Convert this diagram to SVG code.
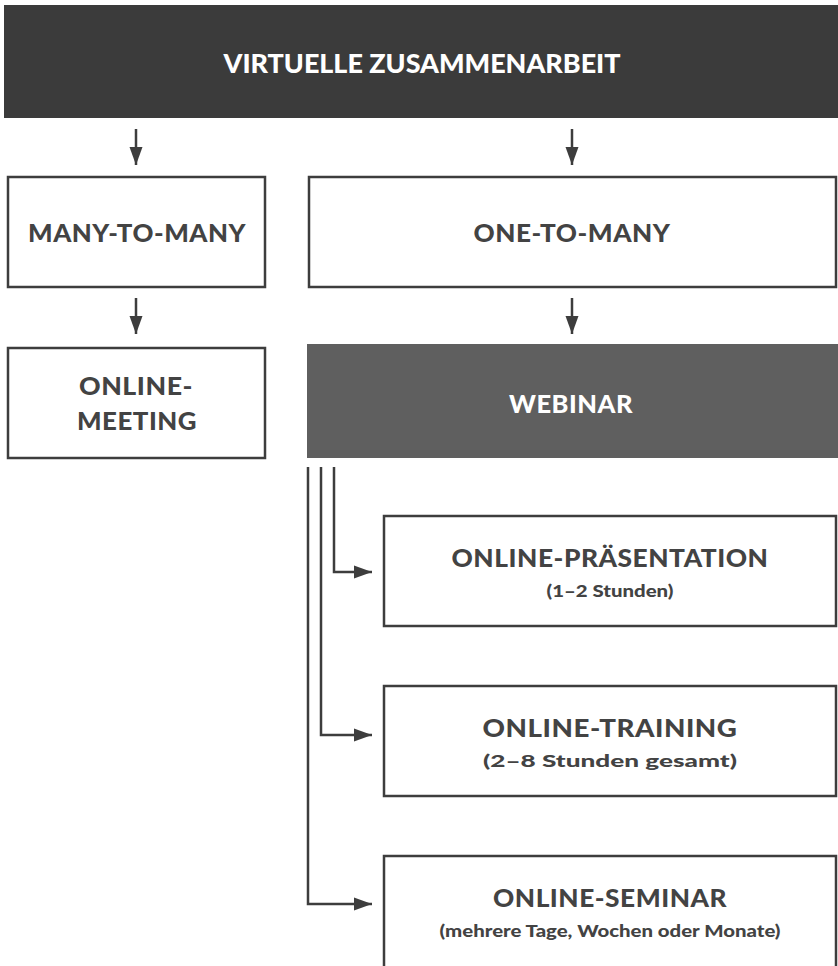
<svg xmlns="http://www.w3.org/2000/svg" width="838" height="966" viewBox="0 0 838 966">
<defs>
<marker id="ah" markerUnits="userSpaceOnUse" markerWidth="20" markerHeight="14" refX="18" refY="7" orient="auto">
<path d="M0,0.5 L18,7 L0,13.5 Z" fill="#3d3d3d"/>
</marker>
<style>
.box{fill:#ffffff;stroke:#3d3d3d;stroke-width:2.5}
.t{font-family:Lato,"Open Sans","Liberation Sans",sans-serif;font-weight:900;fill:#434343;text-anchor:middle}
.big{font-size:25px;letter-spacing:0.5px}
.title{font-size:27px}
.sub{font-size:16.5px}
.w{fill:#ffffff}
.c{fill:none;stroke:#3d3d3d;stroke-width:2.5;marker-end:url(#ah)}
</style>
</defs>
<rect width="838" height="966" fill="#ffffff"/>
<g id="virtuelle">
<rect x="4" y="5" width="834" height="113" fill="#3b3b3b"/>
<text class="t title w" x="422" y="73" textLength="397" lengthAdjust="spacingAndGlyphs">VIRTUELLE ZUSAMMENARBEIT</text>
</g>
<g id="many">
<rect class="box" x="8" y="177" width="257" height="110"/>
<text class="t big" x="137" y="242" textLength="218" lengthAdjust="spacingAndGlyphs">MANY-TO-MANY</text>
</g>
<g id="one">
<rect class="box" x="309" y="177" width="527" height="110"/>
<text class="t big" x="572" y="242" textLength="197" lengthAdjust="spacingAndGlyphs">ONE-TO-MANY</text>
</g>
<g id="meeting">
<rect class="box" x="8" y="348" width="257" height="110"/>
<text class="t big" x="136" y="395" textLength="114" lengthAdjust="spacingAndGlyphs">ONLINE-</text>
<text class="t big" x="137" y="430" textLength="120" lengthAdjust="spacingAndGlyphs">MEETING</text>
</g>
<g id="webinar">
<rect x="307" y="344" width="531" height="114" fill="#5f5f5f"/>
<text class="t big w" x="571" y="413" textLength="124" lengthAdjust="spacingAndGlyphs">WEBINAR</text>
</g>
<g id="praesentation">
<rect class="box" x="384" y="516" width="452" height="110"/>
<text class="t big" x="610" y="567" textLength="317" lengthAdjust="spacingAndGlyphs">ONLINE-PRÄSENTATION</text>
<text class="t sub" x="610" y="597" textLength="127" lengthAdjust="spacingAndGlyphs">(1–2 Stunden)</text>
</g>
<g id="training">
<rect class="box" x="384" y="686" width="452" height="110"/>
<text class="t big" x="610" y="737" textLength="255" lengthAdjust="spacingAndGlyphs">ONLINE-TRAINING</text>
<text class="t sub" x="610" y="767" textLength="254" lengthAdjust="spacingAndGlyphs">(2–8 Stunden gesamt)</text>
</g>
<g id="seminar">
<rect class="box" x="384" y="856" width="452" height="112"/>
<text class="t big" x="610" y="907" textLength="234" lengthAdjust="spacingAndGlyphs">ONLINE-SEMINAR</text>
<text class="t sub" x="610" y="937" textLength="341" lengthAdjust="spacingAndGlyphs">(mehrere Tage, Wochen oder Monate)</text>
</g>
<g id="connectors">
<path class="c" d="M136,129 V165"/>
<path class="c" d="M572,129 V165"/>
<path class="c" d="M136,298 V334"/>
<path class="c" d="M572,298 V334"/>
<path class="c" d="M334,467 V572 H372"/>
<path class="c" d="M321,467 V735 H372"/>
<path class="c" d="M308,467 V904 H372"/>
</g>
</svg>
